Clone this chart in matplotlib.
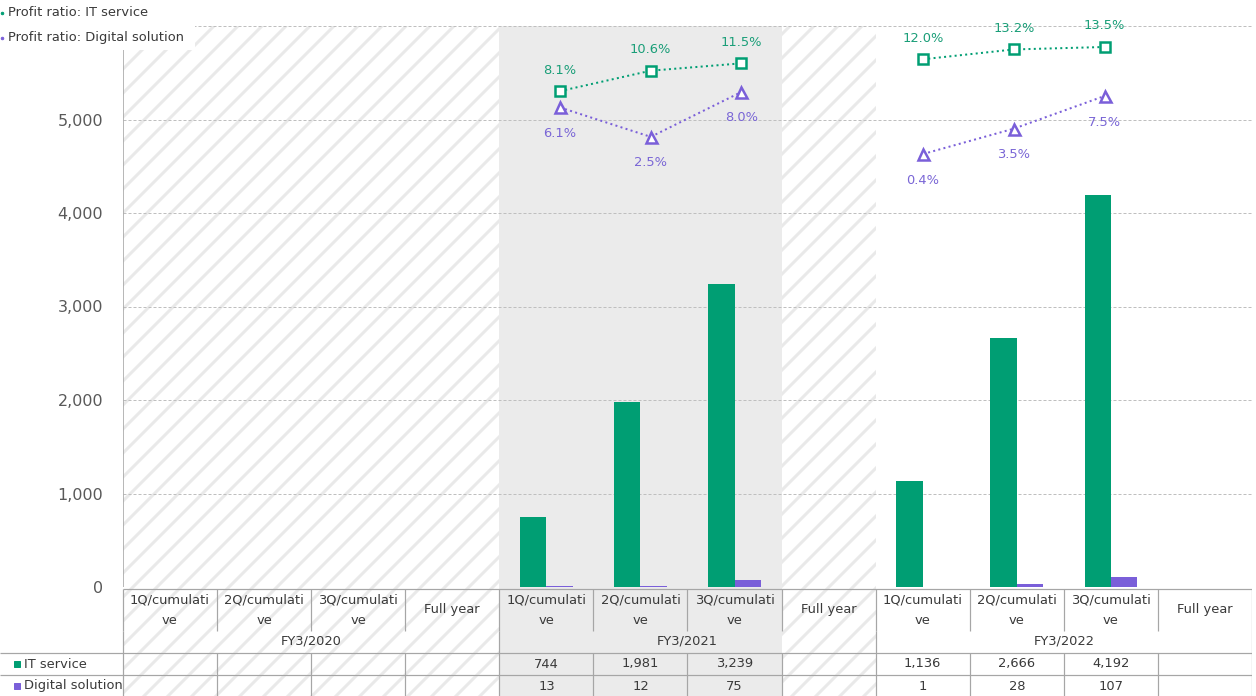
import numpy as np
import matplotlib.pyplot as plt
from matplotlib.patches import Rectangle
from matplotlib.lines import Line2D
from matplotlib.ticker import FuncFormatter
from matplotlib.transforms import blended_transform_factory

# 72 dpi so that font sizes in points equal pixels
plt.rcParams['font.family'] = ['DejaVu Sans']
plt.rcParams['hatch.linewidth'] = 3.0

# Data
years = ['FY3/2020', 'FY3/2021', 'FY3/2022']
periods = ['1Q/cumulati\nve', '2Q/cumulati\nve', '3Q/cumulati\nve', 'Full year']
nan = np.nan
it_service = [nan, nan, nan, nan, 744, 1981, 3239, nan, 1136, 2666, 4192, nan]
digital = [nan, nan, nan, nan, 13, 12, 75, nan, 1, 28, 107, nan]
ratio_it = [nan, nan, nan, nan, 8.1, 10.6, 11.5, nan, 12.0, 13.2, 13.5, nan]
ratio_dig = [nan, nan, nan, nan, 6.1, 2.5, 8.0, nan, 0.4, 3.5, 7.5, nan]

green = '#009e73'
purple = '#7a5fd9'
hatch_col = '#e9e9e9'
grey_bg = '#ebebeb'
line_col = '#a6a6a6'
txt_col = '#3a3a3a'

W, H = 1256, 696
fig = plt.figure(figsize=(W / 72, H / 72), dpi=72)
n = len(it_service)
x = np.arange(n)

# main bar axes
ax = fig.add_axes([123 / W, 1 - 587 / H, 1129 / W, 561 / H])
ax.set_xlim(-0.5, n - 0.5)
ax.set_ylim(0, 6000)


def backgrounds(a):
    a.axvspan(-0.5, 3.5, facecolor='white', edgecolor=hatch_col, hatch='/', lw=0, zorder=0)
    a.axvspan(6.5, 7.5, facecolor='white', edgecolor=hatch_col, hatch='/', lw=0, zorder=0)
    a.axvspan(3.5, 6.5, facecolor=grey_bg, lw=0, zorder=0)


backgrounds(ax)
w = 0.28
ax.bar(x - w / 2, it_service, w, color=green, zorder=2)
ax.bar(x + w / 2, digital, w, color=purple, zorder=2)

ax.set_yticks(np.arange(0, 6001, 1000))
# top gridline carries no label (the legend sits there)
ax.yaxis.set_major_formatter(FuncFormatter(lambda v, p: '' if v >= 6000 else f'{v:,.0f}'))
ax.set_xticks([])
ax.tick_params(axis='y', length=0, pad=20, labelsize=16, labelcolor='#595959')
ax.yaxis.grid(True, ls=(0, (3, 2)), color='#bfbfbf', lw=1)
ax.set_axisbelow(True)
for s in ['top', 'right', 'bottom']:
    ax.spines[s].set_visible(False)
ax.spines['left'].set_color(line_col)

# profit ratio lines on their own scale
ax2 = fig.add_axes(ax.get_position(), frameon=False)
ax2.set_xlim(-0.815, 11.625)
ax2.set_ylim(-52.6, 16.07)
ax2.axis('off')
ax2.plot(x, ratio_it, ls=':', lw=2, color=green, marker='s', ms=10,
         mfc='white', mec=green, mew=2.5)
ax2.plot(x, ratio_dig, ls=':', lw=2, color=purple, marker='^', ms=11,
         mfc='white', mec=purple, mew=2.5)
for i in range(n):
    if not np.isnan(ratio_it[i]):
        ax2.annotate(f'{ratio_it[i]:.1f}%', (x[i], ratio_it[i]), xytext=(0, 21),
                     textcoords='offset points', ha='center', va='center',
                     fontsize=13, color='#1a9e78')
    if not np.isnan(ratio_dig[i]):
        ax2.annotate(f'{ratio_dig[i]:.1f}%', (x[i], ratio_dig[i]), xytext=(0, -26),
                     textcoords='offset points', ha='center', va='center',
                     fontsize=13, color='#7a66d6')

# data table under the chart
slot = 1129 / n
tax = fig.add_axes([0, 0, 1252 / W, 109 / H])
tax.set_xlim(-0.5 - 123 / slot, n - 0.5)
tax.set_ylim(109, 0)
tax.axis('off')
backgrounds(tax)

bounds = np.arange(-0.5, n, 1.0)
lk = dict(color=line_col, lw=1.2, zorder=3)
tax.hlines(2, -0.5, n - 0.5, **lk)
tax.hlines([66, 88], -0.5 - 123 / slot, n - 0.5, **lk)
tax.vlines(bounds, 2, 44, **lk)
tax.vlines(bounds[::4], 44, 66, **lk)
tax.vlines(bounds, 66, 112, **lk)

for i in range(n):
    tax.text(i, 23, periods[i % 4], ha='center', va='center', fontsize=13,
             color=txt_col, linespacing=1.7, zorder=4)
    if not np.isnan(it_service[i]):
        tax.text(i, 77, f'{it_service[i]:,.0f}', ha='center', va='center',
                 fontsize=13, color=txt_col, zorder=4)
        tax.text(i, 99, f'{digital[i]:,.0f}', ha='center', va='center',
                 fontsize=13, color=txt_col, zorder=4)
for k, yr in enumerate(years):
    tax.text(4 * k + 1.5, 54, yr, ha='center', va='center', fontsize=13,
             color=txt_col, zorder=4)

# row keys
tr = blended_transform_factory(fig.transFigure, tax.transData)
for yy, name, col in [(77, 'IT service', green), (99, 'Digital solution', purple)]:
    tax.plot([17 / W], [yy], marker='s', ms=6, color=col, transform=tr, zorder=4)
    tax.text(24 / W, yy, name, transform=tr, ha='left', va='center',
             fontsize=13, color=txt_col, zorder=4)

# legend box at top left
fig.add_artist(Rectangle((0, 1 - 50 / H), 195 / W, 50 / H, transform=fig.transFigure,
                         facecolor='white', edgecolor='none', zorder=5))
for yy, name, col in [(13, 'Profit ratio: IT service', green),
                      (38, 'Profit ratio: Digital solution', purple)]:
    fig.add_artist(Line2D([2 / W], [1 - yy / H], marker='o', ms=2.5, color=col,
                          transform=fig.transFigure, zorder=6))
    fig.text(8 / W, 1 - yy / H, name, ha='left', va='center', fontsize=13,
             color=txt_col, zorder=6)

fig.savefig('out.png', dpi=72)
